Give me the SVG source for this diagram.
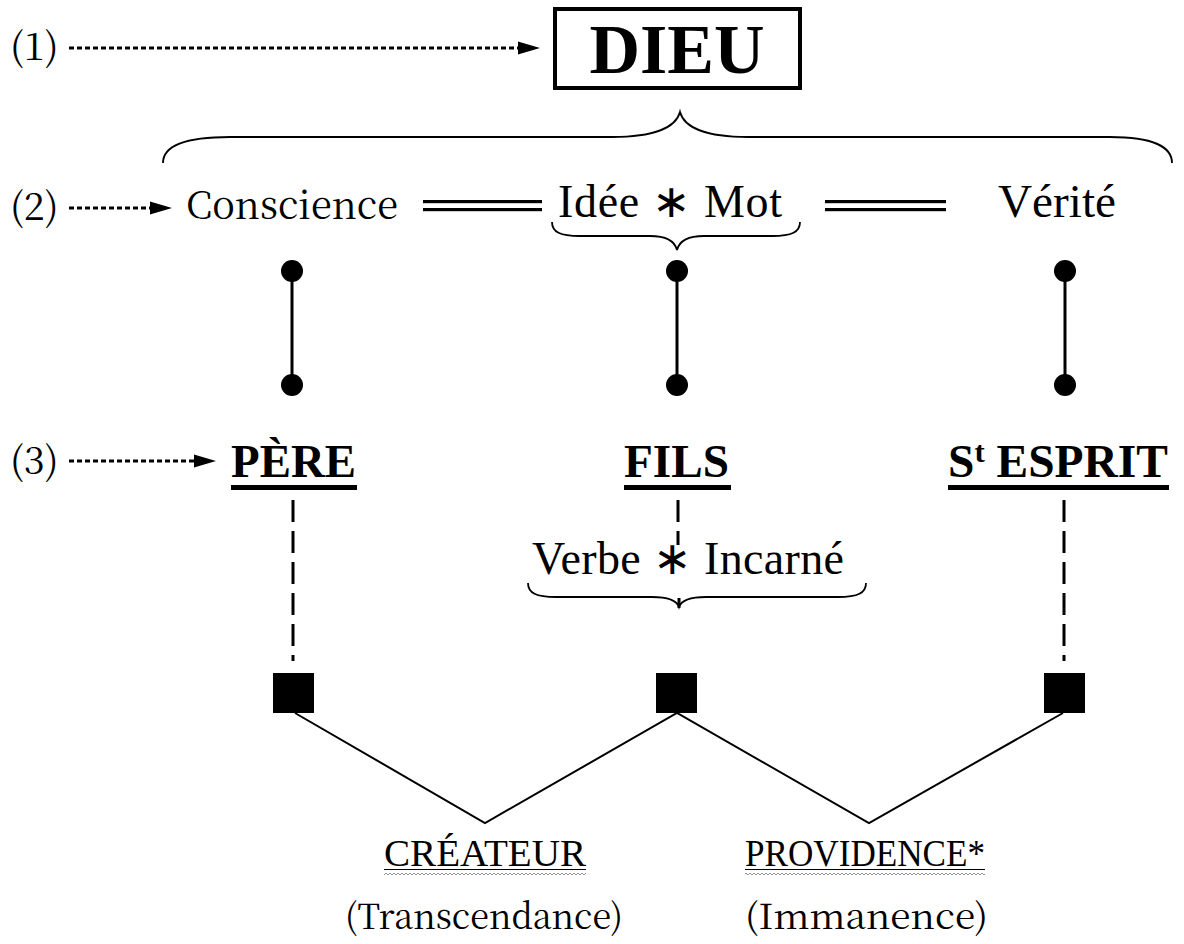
<svg xmlns="http://www.w3.org/2000/svg" width="1184" height="944" viewBox="0 0 1184 944">
<style>
.g{font-family:"Noto Serif CJK SC","DejaVu Serif",serif;fill:#000}
.t{font-family:"Liberation Serif","Times New Roman",serif;fill:#000}
.b{font-weight:bold}
.dot{stroke:#000;stroke-width:3;stroke-dasharray:5 3;fill:none}
.dash{stroke:#000;stroke-width:3;stroke-dasharray:22 9;fill:none}
.solid{stroke:#000;stroke-width:3;fill:none}
.thin{stroke:#000;stroke-width:2;fill:none}
.brace{stroke:#000;stroke-width:1.8;fill:none}
.bar{fill:#000}
.head{fill:#000}
</style>
<defs>
<pattern id="wavy" x="0" y="0" width="4" height="4" patternUnits="userSpaceOnUse">
<path d="M0,3 L2,1 L4,3" stroke="#8a8a8a" stroke-width="0.9" fill="none"/>
</pattern>
</defs>

<g id="label-1"><text class="g" x="10" y="60" font-size="38">(1)</text></g>
<g id="label-2"><text class="g" x="10" y="220" font-size="38">(2)</text></g>
<g id="label-3"><text class="g" x="10" y="474" font-size="38">(3)</text></g>

<g id="node-dieu">
<rect x="555" y="9" width="245" height="79" fill="none" stroke="#000" stroke-width="4"/>
<text class="t b" x="677" y="73" font-size="70" text-anchor="middle">DIEU</text>
</g>

<g id="node-conscience"><text class="g" x="186" y="219" font-size="39" textLength="212" lengthAdjust="spacingAndGlyphs">Conscience</text></g>
<g id="node-idee"><text class="t" x="558" y="217" font-size="46" textLength="224" lengthAdjust="spacing">Idée ∗ Mot</text></g>
<g id="node-verite"><text class="t" x="998" y="217" font-size="46" textLength="118" lengthAdjust="spacingAndGlyphs">Vérité</text></g>

<g id="node-pere">
<text class="t b" x="231" y="477" font-size="46" textLength="125" lengthAdjust="spacingAndGlyphs">PÈRE</text>
<rect class="bar" x="231" y="485" width="126" height="5"/>
</g>
<g id="node-fils">
<text class="t b" x="624" y="477" font-size="46" textLength="105" lengthAdjust="spacingAndGlyphs">FILS</text>
<rect class="bar" x="624" y="485" width="107" height="5"/>
</g>
<g id="node-esprit">
<text class="t b" x="948" y="477" font-size="46" textLength="220" lengthAdjust="spacingAndGlyphs">S<tspan font-size="30" dy="-15">t</tspan><tspan dy="15"> ESPRIT</tspan></text>
<rect class="bar" x="948" y="485" width="221" height="5"/>
</g>

<g id="node-verbe"><text class="t" x="532" y="574" font-size="46" textLength="312" lengthAdjust="spacing">Verbe ∗ Incarné</text></g>

<g id="node-sq1"><rect x="273" y="673" width="41" height="40" fill="#000"/></g>
<g id="node-sq2"><rect x="656" y="673" width="41" height="40" fill="#000"/></g>
<g id="node-sq3"><rect x="1044" y="673" width="41" height="40" fill="#000"/></g>

<g id="node-createur">
<text class="t" x="384" y="866" font-size="37" textLength="202" lengthAdjust="spacingAndGlyphs">CRÉATEUR</text>
<line x1="384" y1="869.5" x2="586" y2="869.5" stroke="#000" stroke-width="1.2"/>
<rect x="384" y="871" width="202" height="4" fill="url(#wavy)"/>
<text class="g" x="345" y="929" font-size="35" textLength="278" lengthAdjust="spacingAndGlyphs">(Transcendance)</text>
</g>
<g id="node-providence">
<text class="t" x="745" y="866" font-size="37" textLength="240" lengthAdjust="spacingAndGlyphs">PROVIDENCE*</text>
<line x1="745" y1="869.5" x2="985" y2="869.5" stroke="#000" stroke-width="1.2"/>
<rect x="745" y="871" width="240" height="4" fill="url(#wavy)"/>
<text class="g" x="745" y="929" font-size="35" textLength="243" lengthAdjust="spacingAndGlyphs">(Immanence)</text>
</g>

<g id="connectors">
<line class="dot" x1="69" y1="48" x2="520" y2="48"/>
<polygon class="head" points="518,41.5 540,48 518,54.5"/>
<line class="dot" x1="69" y1="208" x2="152" y2="208"/>
<polygon class="head" points="150,201.5 172,208 150,214.5"/>
<line class="dot" x1="69" y1="461" x2="196" y2="461"/>
<polygon class="head" points="194,454.5 216,461 194,467.5"/>

<path class="brace" d="M163,163 C163,146 185,137 230,137 L612,137 C655,137 676,127 680,112 C684,127 705,137 748,137 L1110,137 C1155,137 1172,148 1172,163"/>
<path class="brace" d="M552,222 C552,232 560,236 580,236 L650,236 C668,236 675,242 677,250 C679,242 686,236 704,236 L772,236 C792,236 800,232 800,222"/>
<path class="brace" d="M528,583 C528,593 536,597 556,597 L652,597 C670,597 677,601 679,607 C681,601 688,597 706,597 L838,597 C858,597 866,593 866,583"/>

<rect x="423" y="200" width="119" height="3.2"/>
<rect x="423" y="208" width="119" height="3.2"/>
<rect x="825" y="200" width="121" height="3.2"/>
<rect x="825" y="208" width="121" height="3.2"/>

<line class="solid" x1="292" y1="271" x2="292" y2="385"/>
<circle cx="292" cy="271" r="11"/>
<circle cx="292" cy="385" r="11"/>
<line class="solid" x1="677" y1="271" x2="677" y2="385"/>
<circle cx="677" cy="271" r="11"/>
<circle cx="677" cy="385" r="11"/>
<line class="solid" x1="1065" y1="271" x2="1065" y2="385"/>
<circle cx="1065" cy="271" r="11"/>
<circle cx="1065" cy="385" r="11"/>

<line class="dash" x1="293" y1="500" x2="293" y2="661"/>
<line class="dash" x1="678" y1="500" x2="678" y2="545"/>
<line class="solid" x1="679" y1="598" x2="679" y2="608"/>
<line class="dash" x1="1064" y1="500" x2="1064" y2="661"/>

<polyline class="thin" points="295,713 485,823 677,713 869,823 1063,713"/>
</g>
</svg>
